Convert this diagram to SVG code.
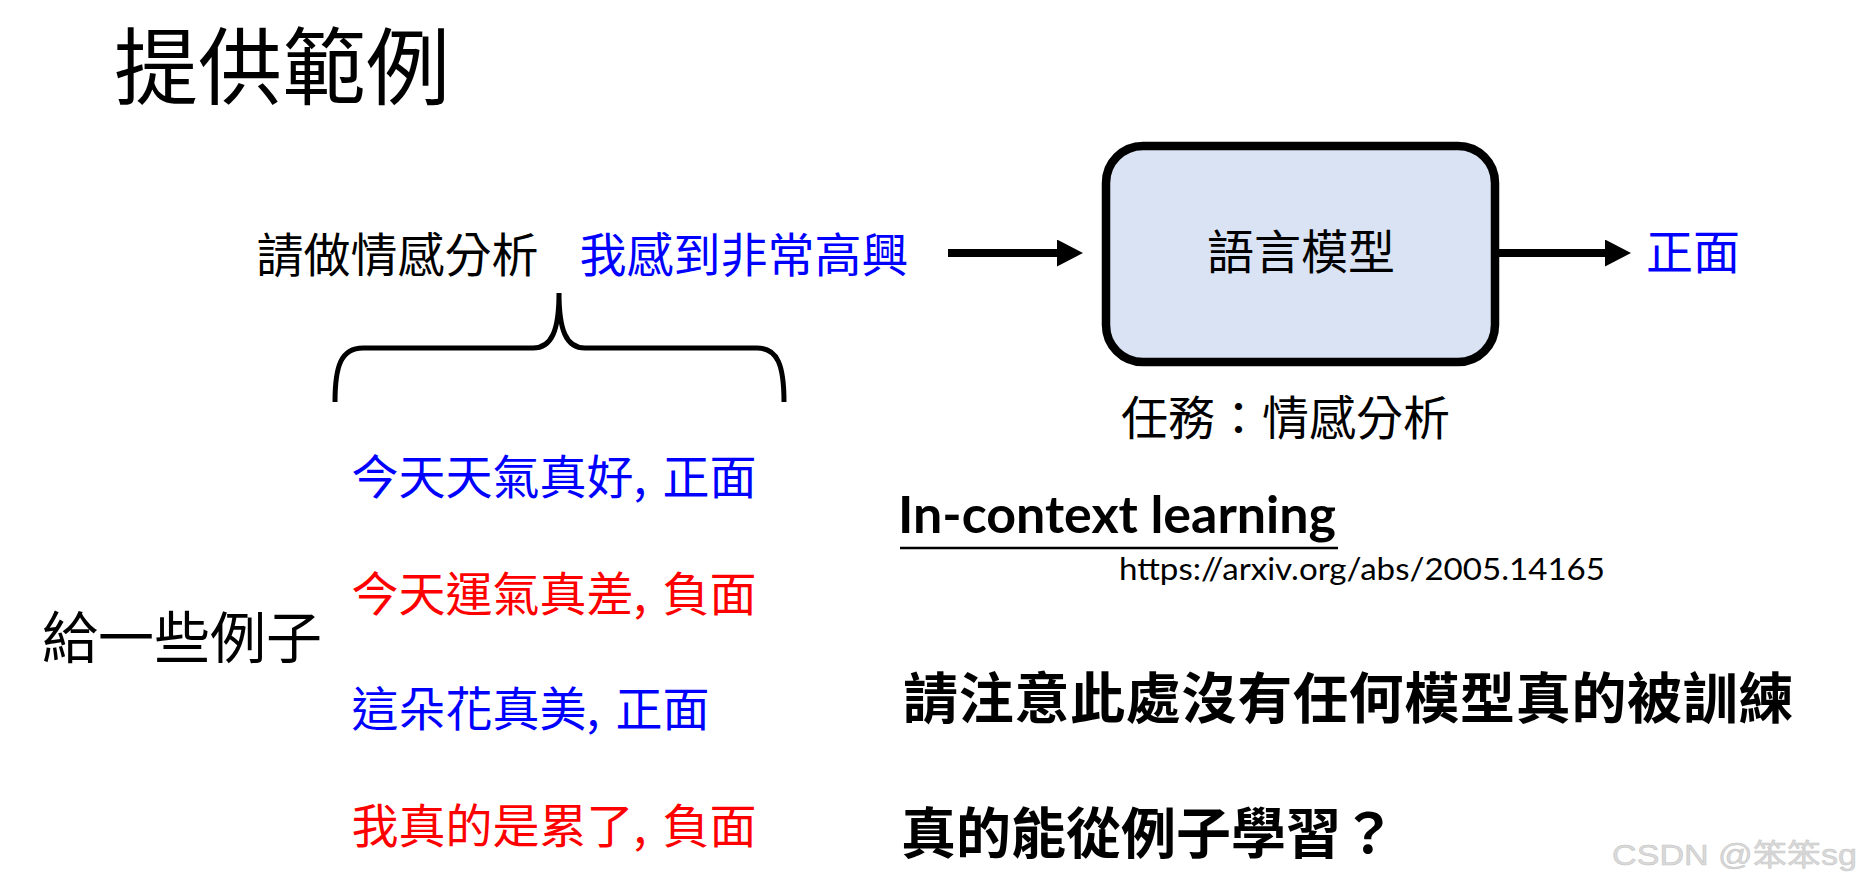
<svg xmlns="http://www.w3.org/2000/svg" width="1861" height="888" viewBox="0 0 1861 888">
<style>
.cjk{font-family:"Noto Sans CJK TC","Noto Sans CJK SC",sans-serif;fill:#000}
.b{fill:#0000FF}
.r{fill:#FF0000}
.conn{stroke:#000;stroke-width:8;fill:none}
.lat{font-family:Lato,"Liberation Sans",sans-serif;fill:#000}
</style>
<defs>
<marker id="ah" markerUnits="userSpaceOnUse" viewBox="0 0 26 27" markerWidth="26" markerHeight="27" refX="1" refY="13.5" orient="auto">
<path d="M0,0 L26,13.5 L0,27 Z" fill="#000"/>
</marker>
</defs>
<rect width="1861" height="888" fill="#fff"/>
<g id="title"><text class="cjk" x="114" y="97.8" font-size="84">提供範例</text></g>
<g id="prompt">
<text class="cjk" x="256.5" y="271.5" font-size="47">請做情感分析</text>
<text class="cjk b" x="579.5" y="271.5" font-size="47">我感到非常高興</text>
</g>
<g id="model">
<rect x="1106" y="146" width="389" height="216" rx="37" ry="37" fill="#DAE3F3" stroke="#000" stroke-width="8.5"/>
<text class="cjk" x="1301" y="268.5" font-size="47" text-anchor="middle">語言模型</text>
</g>
<g id="output"><text class="cjk b" x="1646" y="269" font-size="47">正面</text></g>
<g id="task"><text class="cjk" x="1121" y="434.5" font-size="47">任務：情感分析</text></g>
<g id="connectors">
<line class="conn" x1="948" y1="253" x2="1058" y2="253" marker-end="url(#ah)"/>
<line class="conn" x1="1499" y1="253" x2="1606" y2="253" marker-end="url(#ah)"/>
<path class="conn" style="stroke-width:5" d="M335,402 C335,366 341,348 363,348 L533,348 C552,348 559,330 559,293 C559,330 566,348 585,348 L757,348 C778,348 784,366 784,402"/>
</g>
<g id="examples">
<text class="cjk b" x="351.5" y="494" font-size="47">今天天氣真好,<tspan x="662.5">正面</tspan></text>
<text class="cjk r" x="351.5" y="611" font-size="47">今天運氣真差,<tspan x="662.5">負面</tspan></text>
<text class="cjk b" x="351.5" y="726" font-size="47">這朵花真美,<tspan x="615.5">正面</tspan></text>
<text class="cjk r" x="351.5" y="843" font-size="47">我真的是累了,<tspan x="662.5">負面</tspan></text>
</g>
<g id="give"><text class="cjk" x="42" y="658" font-size="56">給一些例子</text></g>
<g id="icl">
<text class="lat" x="898" y="533" font-size="52" font-weight="700" textLength="438" lengthAdjust="spacingAndGlyphs">In-context learning</text>
<line x1="900" y1="548" x2="1338" y2="548" stroke="#000" stroke-width="2.7"/>
<text class="lat" x="1119" y="580" font-size="30" textLength="486" lengthAdjust="spacingAndGlyphs">https://arxiv.org/abs/2005.14165</text>
</g>
<g id="note">
<text class="cjk" x="903" y="718" font-size="55" font-weight="700" letter-spacing="0.7">請注意此處沒有任何模型真的被訓練</text>
<text class="cjk" x="901" y="853" font-size="55" font-weight="700">真的能從例子學習？</text>
</g>
<g id="watermark"><text x="1612" y="865" font-size="30" fill="#d9d9d9" stroke="#c4c4c4" stroke-width="0.5" font-family="'Liberation Sans','Noto Sans CJK SC',sans-serif" textLength="245" lengthAdjust="spacingAndGlyphs">CSDN @笨笨sg</text></g>
</svg>
